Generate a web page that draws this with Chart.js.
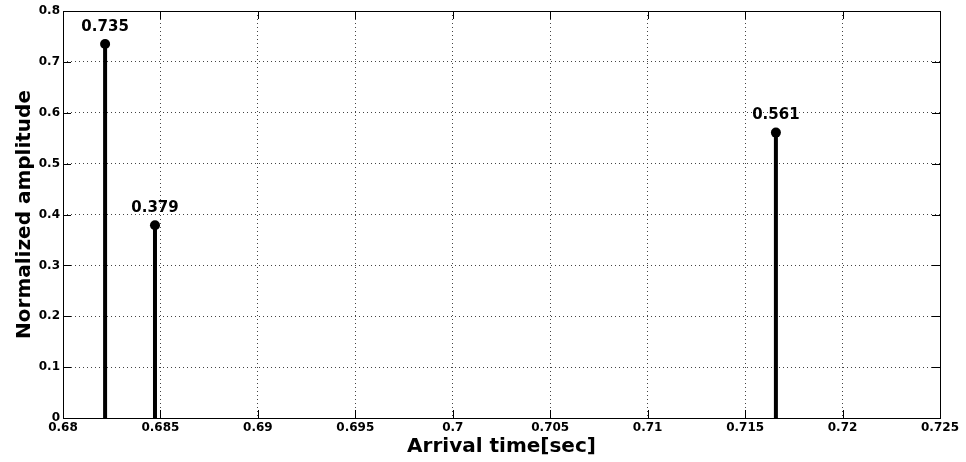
<!DOCTYPE html>
<html>
<head>
<meta charset="utf-8">
<script src="https://cdn.jsdelivr.net/npm/chart.js@4"></script>
<style>
  html, body { margin: 0; padding: 0; background: #fff; }
  #wrap { width: 966px; height: 462px; }
</style>
</head>
<body>
<div id="wrap"><canvas id="stemChart" width="966" height="462"></canvas></div>
<script>
// arrival times and amplitudes
const arrivalTimes = [0.68216, 0.68472, 0.71658]
const amplitudes = [0.735, 0.379, 0.561]
const peakLabels = ['0.735', '0.379', '0.561']

const xTicks = [0.68, 0.685, 0.69, 0.695, 0.7, 0.705, 0.71, 0.715, 0.72, 0.725]
const yTicks = [0, 0.1, 0.2, 0.3, 0.4, 0.5, 0.6, 0.7, 0.8]

// one small line dataset per stem: baseline -> peak
const datasets = []
for (let i = 0; i < arrivalTimes.length; i++) {
  datasets.push({
    data: [{ x: arrivalTimes[i], y: 0 }, { x: arrivalTimes[i], y: amplitudes[i] }],
    showLine: true,
    borderColor: '#000',
    backgroundColor: '#000',
    borderWidth: 4,
    pointRadius: [0, 5],
    pointHoverRadius: [0, 5],
    pointBackgroundColor: '#000',
    pointBorderWidth: 0
  })
}

const FONT = '"DejaVu Sans", Verdana, sans-serif'

const peakLabelPlugin = {
  id: 'peakLabels',
  afterDatasetsDraw(chart) {
    const c = chart.ctx
    const xs = chart.scales.x
    const ys = chart.scales.y
    c.save()
    c.font = 'bold 15px ' + FONT
    c.fillStyle = '#000'
    c.textAlign = 'center'
    c.textBaseline = 'middle'
    for (let i = 0; i < arrivalTimes.length; i++) {
      c.fillText(peakLabels[i], xs.getPixelForValue(arrivalTimes[i]), ys.getPixelForValue(amplitudes[i]) - 17)
    }
    c.restore()
  }
}

// MATLAB-like box and inward ticks
const boxPlugin = {
  id: 'box',
  afterDraw(chart) {
    const a = chart.chartArea
    const c = chart.ctx
    const xs = chart.scales.x
    const ys = chart.scales.y
    c.save()
    c.strokeStyle = '#000'
    c.lineWidth = 1
    c.strokeRect(a.left + 0.5, a.top + 0.5, a.right - a.left, a.bottom - a.top)
    c.beginPath()
    for (const t of xTicks) {
      const px = Math.round(xs.getPixelForValue(t)) + 0.5
      c.moveTo(px, a.bottom); c.lineTo(px, a.bottom - 8)
      c.moveTo(px, a.top); c.lineTo(px, a.top + 8)
    }
    for (const t of yTicks) {
      const py = Math.round(ys.getPixelForValue(t)) + 0.5
      c.moveTo(a.left, py); c.lineTo(a.left + 8, py)
      c.moveTo(a.right, py); c.lineTo(a.right - 8, py)
    }
    c.stroke()
    c.restore()
  }
}

const tickFont = { family: FONT, size: 12, weight: 'bold' }
const titleFont = { family: FONT, size: 20, weight: 'bold' }

new Chart(document.getElementById('stemChart'), {
  type: 'scatter',
  data: { datasets: datasets },
  options: {
    responsive: false,
    animation: false,
    events: [],
    layout: { padding: { top: 11, right: 26, left: 0, bottom: 0 } },
    plugins: { legend: { display: false }, tooltip: { enabled: false } },
    scales: {
      x: {
        type: 'linear',
        min: 0.68,
        max: 0.725,
        afterBuildTicks: (s) => { s.ticks = xTicks.map(v => ({ value: v })) },
        afterFit: (s) => { s.height = 44 },
        ticks: {
          color: '#000',
          font: tickFont,
          padding: 3,
          maxRotation: 0,
          autoSkip: false,
          callback: (v) => String(+v.toFixed(3))
        },
        grid: {
          color: '#444',
          lineWidth: 1,
          drawTicks: false
        },
        border: { display: false, dash: [1, 3] },
        title: {
          display: true,
          text: 'Arrival time[sec]',
          color: '#000',
          font: titleFont,
          padding: { top: 0, bottom: 3 }
        }
      },
      y: {
        type: 'linear',
        min: 0,
        max: 0.8,
        afterBuildTicks: (s) => { s.ticks = yTicks.map(v => ({ value: v })) },
        afterFit: (s) => { s.width = 63 },
        ticks: {
          color: '#000',
          font: tickFont,
          padding: 3,
          callback: (v) => String(+v.toFixed(1))
        },
        grid: {
          color: '#444',
          lineWidth: 1,
          drawTicks: false
        },
        border: { display: false, dash: [1, 3] },
        title: {
          display: true,
          text: 'Normalized amplitude',
          color: '#000',
          font: titleFont,
          padding: { top: 13, bottom: 0 }
        }
      }
    }
  },
  plugins: [peakLabelPlugin, boxPlugin]
})
</script>
</body>
</html>
